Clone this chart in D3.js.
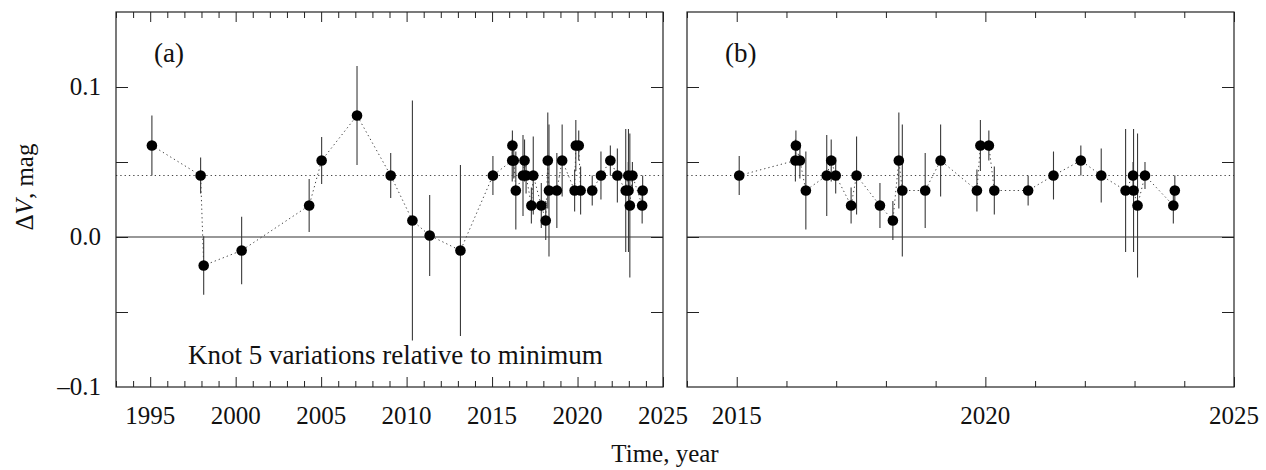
<!DOCTYPE html>
<html><head><meta charset="utf-8">
<script src="https://cdn.jsdelivr.net/npm/d3@7"></script>
<style>
html,body{margin:0;padding:0;background:#fff;}
</style></head>
<body><svg id="c" width="1266" height="470" font-family="'Liberation Serif', 'Times New Roman', Times, serif"></svg>
<script>
// ---- data ----
const earlyYears = [1995.1, 1997.95, 1998.13, 2000.35, 2004.3, 2005.03, 2007.1, 2009.07, 2010.34, 2011.35, 2013.15];
const earlyDV    = [0.061, 0.041, -0.019, -0.009, 0.021, 0.051, 0.081, 0.041, 0.011, 0.001, -0.009];
const earlyErr   = [0.020, 0.012, 0.0195, 0.0225, 0.0177, 0.0157, 0.033, 0.015, 0.080, 0.027, 0.057];

const recentYears = [2015.05, 2016.18, 2016.19, 2016.27, 2016.39, 2016.81, 2016.90, 2016.99, 2017.30, 2017.41,
                     2017.88, 2018.14, 2018.26, 2018.33, 2018.79, 2019.10, 2019.83, 2019.90, 2020.07, 2020.18,
                     2020.86, 2021.37, 2021.92, 2022.33, 2022.82, 2022.97, 2022.98, 2023.06, 2023.21, 2023.78, 2023.81];
const recentDV    = [0.041, 0.051, 0.061, 0.051, 0.031, 0.041, 0.051, 0.041, 0.021, 0.041,
                     0.021, 0.011, 0.051, 0.031, 0.031, 0.051, 0.031, 0.061, 0.061, 0.031,
                     0.031, 0.041, 0.051, 0.041, 0.031, 0.041, 0.031, 0.021, 0.041, 0.021, 0.031];
const recentErr   = [0.013, 0.014, 0.010, 0.012, 0.026, 0.027, 0.014, 0.012, 0.012, 0.026,
                     0.015, 0.013, 0.032, 0.044, 0.025, 0.024, 0.014, 0.017, 0.010, 0.016,
                     0.010, 0.016, 0.010, 0.018, 0.041, 0.009, 0.041, 0.048, 0.009, 0.012, 0.010];

const meanLevel = 0.041;
const yTickLabels = ["0.1", "0.0", "\u20130.1"];
const yLabelValues = [0.1, 0.0, -0.1];
const panelALabels = [1995, 2000, 2005, 2010, 2015, 2020, 2025];
const panelBLabels = [2015, 2020, 2025];

// ---- build ----
const mk = (ys, vs, es) => ys.map((v, i) => ({year: v, dv: vs[i], err: es[i]}));
const early = mk(earlyYears, earlyDV, earlyErr);
const recent = mk(recentYears, recentDV, recentErr);
const all = early.concat(recent);

const svg = d3.select("#c");
const yTop = 12, yBot = 387;
const y = d3.scaleLinear().domain([-0.1, 0.15]).range([yBot, yTop]);

const panels = [
  {x0: 116, x1: 663, domain: [1993, 2025], data: all, labels: panelALabels, showY: true, tag: "(a)"},
  {x0: 687, x1: 1234, domain: [2014, 2025], data: recent, labels: panelBLabels, showY: false, tag: "(b)"}
];

const ink = "#222";
const txt = "#111";

panels.forEach(p => {
  const x = d3.scaleLinear().domain(p.domain).range([p.x0, p.x1]);
  const g = svg.append("g");
  const years = d3.range(p.domain[0], p.domain[1] + 1);
  const major = years.filter(v => v % 5 === 0);
  const minor = years.filter(v => v % 5 !== 0);

  g.append("line").attr("x1", p.x0).attr("x2", p.x1).attr("y1", y(0)).attr("y2", y(0))
    .attr("stroke", "#333").attr("stroke-width", 1.2);
  g.append("line").attr("x1", p.x0).attr("x2", p.x1).attr("y1", y(meanLevel)).attr("y2", y(meanLevel))
    .attr("stroke", "#444").attr("stroke-width", 1).attr("stroke-dasharray", "1.3,3");

  const styleAxis = sel => { sel.select(".domain").remove(); sel.selectAll("line").attr("stroke", ink); sel.selectAll("text").remove(); };
  g.append("g").attr("transform", `translate(0,${yBot})`)
    .call(d3.axisBottom(x).tickValues(major).tickSize(-10)).call(styleAxis);
  g.append("g").attr("transform", `translate(0,${yBot})`)
    .call(d3.axisBottom(x).tickValues(minor).tickSize(-6)).call(styleAxis);
  g.append("g").attr("transform", `translate(0,${yTop})`)
    .call(d3.axisTop(x).tickValues(major).tickSize(-10)).call(styleAxis);
  g.append("g").attr("transform", `translate(0,${yTop})`)
    .call(d3.axisTop(x).tickValues(minor).tickSize(-6)).call(styleAxis);
  const yTicks = [-0.05, 0, 0.05, 0.1];
  g.append("g").attr("transform", `translate(${p.x0},0)`)
    .call(d3.axisLeft(y).tickValues(yTicks).tickSize(-12)).call(styleAxis);
  g.append("g").attr("transform", `translate(${p.x1},0)`)
    .call(d3.axisRight(y).tickValues(yTicks).tickSize(-12)).call(styleAxis);

  g.append("rect").attr("x", p.x0).attr("y", yTop).attr("width", p.x1 - p.x0).attr("height", yBot - yTop)
    .attr("fill", "none").attr("stroke", ink).attr("stroke-width", 1.2);

  g.selectAll("text.xl").data(p.labels).join("text").attr("class", "xl")
    .attr("x", d => x(d)).attr("y", 424).attr("text-anchor", "middle")
    .attr("font-size", 25).attr("fill", txt).text(d => d);

  if (p.showY) {
    g.selectAll("text.yl").data(yLabelValues).join("text").attr("class", "yl")
      .attr("x", 101).attr("y", d => y(d) + 8).attr("text-anchor", "end")
      .attr("font-size", 25).attr("fill", txt).text((d, i) => yTickLabels[i]);
  }

  const line = d3.line().x(d => x(d.year)).y(d => y(d.dv));
  g.append("path").datum(p.data).attr("d", line).attr("fill", "none")
    .attr("stroke", "#444").attr("stroke-width", 1).attr("stroke-dasharray", "1.3,3");

  g.selectAll("line.eb").data(p.data).join("line").attr("class", "eb")
    .attr("x1", d => x(d.year)).attr("x2", d => x(d.year))
    .attr("y1", d => y(d.dv - d.err)).attr("y2", d => y(d.dv + d.err))
    .attr("stroke", "#3a3a3a").attr("stroke-width", 1.1);

  g.selectAll("circle").data(p.data).join("circle")
    .attr("cx", d => x(d.year)).attr("cy", d => y(d.dv)).attr("r", 5.3).attr("fill", "#000");

  g.append("text").attr("x", p.x0 + 38).attr("y", 62).attr("font-size", 27).attr("fill", txt).text(p.tag);
});

svg.append("text").attr("x", 188).attr("y", 364).attr("font-size", 27).attr("fill", txt)
  .text("Knot 5 variations relative to minimum");

svg.append("text").attr("x", 665).attr("y", 462).attr("text-anchor", "middle")
  .attr("font-size", 25).attr("fill", txt).text("Time, year");

const yTitle = svg.append("text").attr("transform", "translate(33,187) rotate(-90)")
  .attr("text-anchor", "middle").attr("font-size", 25).attr("fill", txt);
yTitle.append("tspan").text("\u0394");
yTitle.append("tspan").attr("font-style", "italic").text("V");
yTitle.append("tspan").text(", mag");
</script></body></html>
